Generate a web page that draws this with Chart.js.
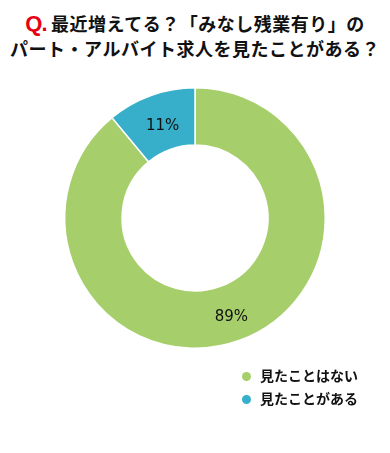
<!DOCTYPE html>
<html lang="ja">
<head>
<meta charset="UTF-8">
<title>みなし残業有り</title>
<script src="https://cdn.jsdelivr.net/npm/chart.js"></script>
<style>
  body { margin: 0; background: #fff; font-family: "Noto Sans CJK JP", sans-serif; }
  #wrap { position: relative; width: 390px; height: 453px; }
  #title { position: absolute; top: 11px; left: 0; width: 390px; text-align: center;
           font-weight: bold; font-size: 18px; letter-spacing: 0.5px; line-height: 24px; color: #111; }
  #title .q { color: #e60012; font-family: "Liberation Sans", sans-serif; font-size: 22px; letter-spacing: -1px; }
  #legend { position: absolute; left: 242px; top: 364px; font-weight: bold; font-size: 14px; color: #111; }
  #legend div { height: 23px; line-height: 23px; }
  #legend span.dot { display: inline-block; width: 9px; height: 9px; border-radius: 50%; margin-right: 9px; vertical-align: 0; }
  canvas { position: absolute; top: 0; left: 0; }
</style>
</head>
<body>
<div id="wrap">
  <div id="title"><span class="q">Q.</span> 最近増えてる？「みなし残業有り」の<br>パート・アルバイト求人を見たことがある？</div>
  <canvas id="myChart" width="390" height="453"></canvas>
  <div id="legend"></div>
</div>
<script>
const labels = ['見たことはない', '見たことがある'];
const values = [89, 11];
const colors = ['#a6cf6b', '#37afca'];

// 凡例はHTMLで
const legend = document.getElementById('legend');
labels.forEach((l, i) => {
  const row = document.createElement('div');
  row.innerHTML = '<span class="dot" style="background:' + colors[i] + '"></span>' + l;
  legend.appendChild(row);
});

// パーセント表示
const pctLabels = {
  id: 'pctLabels',
  afterDatasetsDraw(chart) {
    const ctx = chart.ctx;
    const meta = chart.getDatasetMeta(0);
    ctx.save();
    ctx.font = '15px "DejaVu Sans", sans-serif';
    ctx.fillStyle = '#111';
    ctx.textAlign = 'center';
    ctx.textBaseline = 'middle';
    meta.data.forEach((arc, i) => {
      const p = arc.tooltipPosition();
      ctx.fillText(values[i] + '%', p.x + 2, p.y + 4);
    });
    ctx.restore();
  }
};

const ctx = document.getElementById('myChart').getContext('2d');
new Chart(ctx, {
  type: 'doughnut',
  data: {
    labels: labels,
    datasets: [{
      data: values,
      backgroundColor: colors,
      borderColor: '#fff',
      borderWidth: 1.5
    }]
  },
  options: {
    responsive: false,
    animation: false,
    cutout: '56%',
    layout: { padding: { top: 87, bottom: 104, left: 64, right: 64 } },
    plugins: {
      legend: { display: false },
      tooltip: { enabled: false }
    }
  },
  plugins: [pctLabels]
});
</script>
</body>
</html>
